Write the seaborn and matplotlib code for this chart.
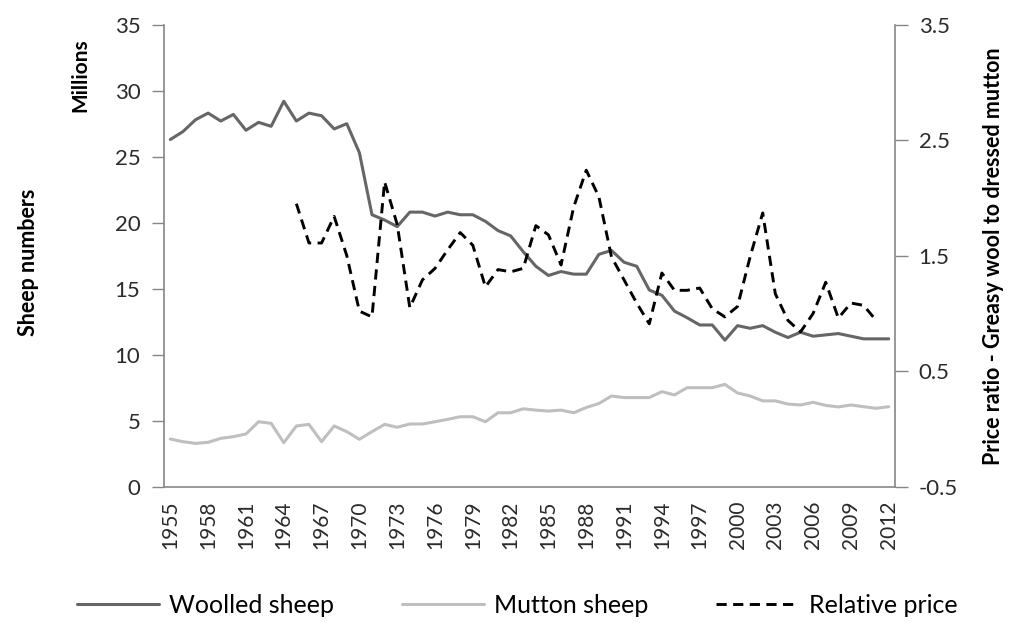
import matplotlib
matplotlib.use("Agg")
import numpy as np
import pandas as pd
import matplotlib.pyplot as plt
from matplotlib.lines import Line2D
import seaborn as sns

# Data
years = list(range(1955, 2013))

woolled = [26.3, 26.9, 27.8, 28.3, 27.7, 28.2, 27.0, 27.6, 27.3, 29.2,
           27.7, 28.3, 28.1, 27.1, 27.5, 25.3, 20.6, 20.2, 19.7, 20.8,
           20.8, 20.5, 20.8, 20.6, 20.6, 20.1, 19.4, 19.0, 17.8, 16.7,
           16.0, 16.3, 16.1, 16.1, 17.6, 17.9, 17.0, 16.7, 14.9, 14.5,
           13.3, 12.8, 12.25, 12.25, 11.1, 12.2, 12.0, 12.2, 11.7, 11.3,
           11.7, 11.4, 11.5, 11.6, 11.4, 11.2, 11.2, 11.2]

mutton = [3.61, 3.41, 3.28, 3.36, 3.66, 3.79, 3.99, 4.92, 4.80, 3.33,
          4.60, 4.72, 3.41, 4.60, 4.17, 3.59, 4.17, 4.72, 4.50, 4.75,
          4.75, 4.92, 5.1, 5.3, 5.3, 4.92, 5.6, 5.6, 5.9, 5.8,
          5.73, 5.8, 5.6, 6.0, 6.3, 6.87, 6.75, 6.75, 6.75, 7.2,
          6.95, 7.5, 7.5, 7.5, 7.75, 7.1, 6.87, 6.5, 6.5, 6.26,
          6.19, 6.39, 6.16, 6.04, 6.19, 6.06, 5.94, 6.06]

price_years = list(range(1965, 2012))
price = [1.95, 1.61, 1.61, 1.84, 1.50, 1.02, 0.97, 2.14, 1.77, 1.05,
         1.29, 1.39, 1.55, 1.70, 1.59, 1.23, 1.38, 1.36, 1.39, 1.76,
         1.68, 1.42, 1.92, 2.24, 2.01, 1.49, 1.29, 1.09, 0.91, 1.35,
         1.20, 1.20, 1.22, 1.04, 0.97, 1.06, 1.49, 1.87, 1.17, 0.94,
         0.84, 1.00, 1.27, 0.96, 1.09, 1.07, 0.94]

tick_years = list(range(1955, 2013, 3))

WOOL_C = "#666666"
MUTTON_C = "#bfbfbf"
PRICE_C = "#000000"
SPINE_C = "#868686"
TEXT_C = "#2b2b2b"

sns.set_style("white")
plt.rcParams["font.family"] = ["Lato", "DejaVu Sans"]

sheep = pd.DataFrame({"Year": years, "Woolled": woolled, "Mutton": mutton})
ratio = pd.DataFrame({"Year": price_years, "Price": price})

fig = plt.figure(figsize=(10.1, 6.23), dpi=100)
ax = fig.add_axes([0.1624, 0.2188, 0.7238, 0.7416])
ax2 = ax.twinx()

sns.lineplot(data=sheep, x="Year", y="Woolled", ax=ax, color=WOOL_C, lw=2.2)
sns.lineplot(data=sheep, x="Year", y="Mutton", ax=ax, color=MUTTON_C, lw=2.2)
sns.lineplot(data=ratio, x="Year", y="Price", ax=ax2, color=PRICE_C, lw=2.1,
             linestyle=(0, (3.5, 2.2)))

# left axis
ax.set_xlim(years[0] - 0.5, years[-1] + 0.5)
ax.set_ylim(0, 35)
ax.set_yticks(range(0, 36, 5))
ax.set_xlabel("")
ax.set_ylabel("")
# category-boundary tick marks, labels at every third year
ax.set_xticks(np.arange(years[0] - 0.5, years[-1] + 1, 1))
ax.set_xticklabels([])
ax.set_xticks(tick_years, minor=True)
ax.set_xticklabels([str(y) for y in tick_years], minor=True, rotation=90)
ax.tick_params(axis="x", which="major", length=8, color=SPINE_C, width=1)
ax.tick_params(axis="x", which="minor", length=0, pad=10, labelsize=15, labelcolor=TEXT_C)
ax.tick_params(axis="y", length=9, color=SPINE_C, width=1, labelsize=16,
               labelcolor=TEXT_C, pad=8, left=True)

# right axis
ax2.set_ylim(-0.5, 3.5)
ax2.set_yticks([-0.5, 0.5, 1.5, 2.5, 3.5])
ax2.set_yticklabels(["-0.5", "0.5", "1.5", "2.5", "3.5"])
ax2.set_ylabel("")
ax2.tick_params(axis="y", length=9, color=SPINE_C, width=1, labelsize=16,
                labelcolor=TEXT_C, pad=8, right=True)

for a in (ax, ax2):
    a.spines["top"].set_visible(False)
    for side in ("left", "right", "bottom"):
        a.spines[side].set_color(SPINE_C)
        a.spines[side].set_linewidth(1.2)
ax.spines["right"].set_visible(False)
ax2.spines["left"].set_visible(False)
ax2.spines["bottom"].set_visible(False)

# axis titles
fig.text(0.080, 0.880, "Millions", rotation=90, ha="center", va="center",
         fontsize=15, fontweight="bold", color="black")
fig.text(0.028, 0.579, "Sheep numbers", rotation=90, ha="center", va="center",
         fontsize=15.5, fontweight="bold", color="black")
fig.text(0.984, 0.589, "Price ratio - Greasy wool to dressed mutton", rotation=90,
         ha="center", va="center", fontsize=15.5, fontweight="bold", color="black")

handles = [
    Line2D([], [], color=WOOL_C, lw=2.2),
    Line2D([], [], color=MUTTON_C, lw=2.2),
    Line2D([], [], color=PRICE_C, lw=2.1, linestyle=(0, (3.5, 2.2))),
]
fig.legend(handles, ["Woolled sheep", "Mutton sheep", "Relative price"],
           loc="center", bbox_to_anchor=(0.512, 0.028), ncol=3, frameon=False,
           fontsize=18, handlelength=3.3, handletextpad=0.4, columnspacing=2.7,
           labelcolor="black")

fig.savefig("out.png", dpi=100)
